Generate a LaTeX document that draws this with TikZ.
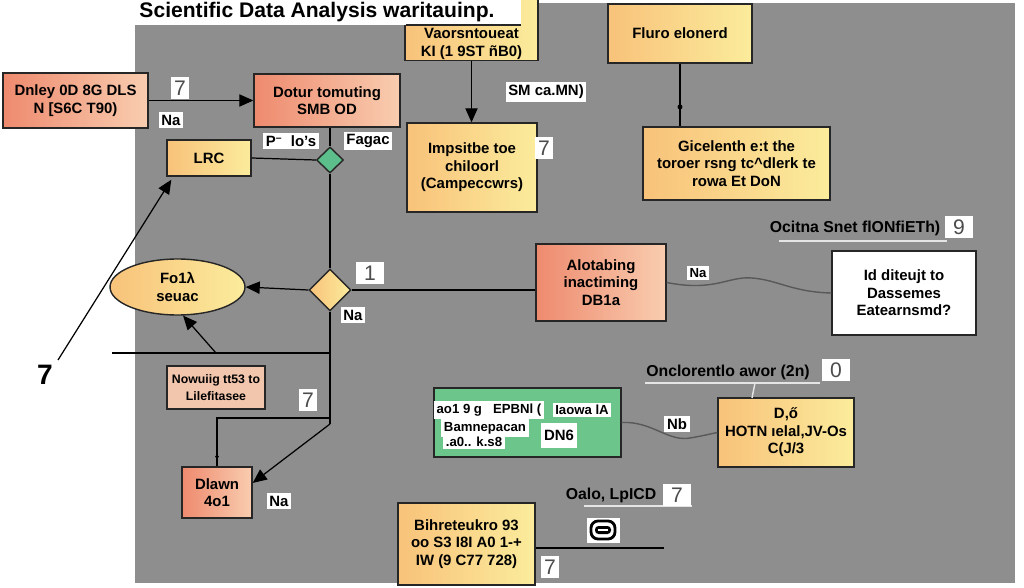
\documentclass[tikz,border=0pt]{standalone}
\usepackage{fontspec}
\setmainfont{Liberation Sans}
\usepackage{xcolor}
\definecolor{bggray}{HTML}{8E8E8E}
\definecolor{salma}{HTML}{EE8A6E}
\definecolor{salmb}{HTML}{F9CDB0}
\definecolor{salmc}{HTML}{F2C6AD}
\definecolor{amba}{HTML}{F8C27A}
\definecolor{ambb}{HTML}{FBEC9C}
\definecolor{vertc}{HTML}{6CC58B}
\definecolor{vertd}{HTML}{5CBE8A}
\usetikzlibrary{calc,positioning,shapes.geometric,arrows.meta}
\newcommand{\bxf}{\fontsize{8.5}{10}\selectfont\bfseries}
\tikzset{
  progsal/.style={rectangle, draw=black!85, line width=0.8pt, left color=salma, right color=salmb, align=center, font=\bxf, inner sep=2pt},
  progamb/.style={rectangle, draw=black!85, line width=0.8pt, left color=amba, right color=ambb, align=center, font=\bxf, inner sep=2pt},
  proggrn/.style={rectangle, draw=black!85, line width=0.8pt, fill=vertc, inner sep=2pt},
  progwht/.style={rectangle, draw=black!85, line width=0.8pt, fill=white, align=center, font=\bxf, inner sep=2pt},
  decis/.style={diamond, draw=black!85, line width=0.8pt, inner sep=0pt},
  lab/.style={fill=white, font=\bxf, inner sep=1.5pt},
  numl/.style={fill=white, font=\fontsize{12}{12}\selectfont, text=black!70, inner sep=2pt},
  capt/.style={font=\fontsize{9}{10}\selectfont\bfseries, inner sep=1pt},
  line/.style={draw, line width=0.7pt, -{Triangle[length=8pt,width=7pt]}},
  plain/.style={draw, line width=0.7pt},
  wavy/.style={draw=black!65, line width=0.8pt},
  uline/.style={draw=white!80!gray, line width=0.8pt},
  dot/.style={circle, fill=black, inner sep=1pt}
}

\begin{document}
\begin{tikzpicture}[x=0.02cm,y=-0.02cm]
    \useasboundingbox (0,0) rectangle (1024,588);
    \fill[white] (0,0) rectangle (1024,588);
    \fill[bggray] (135,3) rectangle (1015,583);

    % top row
    \node[progamb, minimum width=2.66cm, minimum height=1.5cm, anchor=south] (vaor) at (471.5,61) {};
    \fill[white] (128,0) rectangle (521,25);
    \draw[black!85, line width=0.8pt] (405.5,25) -- (521,25);
    \node[font=\fontsize{12}{12}\selectfont\bfseries, inner sep=1pt] (titl) at (317,12) {Scientific Data Analysis waritauinp.};
    \node[font=\bxf, align=center] (vaort) at (471.5,44) {Vaorsntoueat\\KI (1 9ST ñB0)};
    \node[progsal, minimum width=2.9cm, minimum height=1.1cm] (dnley) at (75.5,100.5) {Dnley 0D 8G DLS\\N [S6C T90)};
    \node[progsal, minimum width=2.92cm, minimum height=1.06cm] (dotur) at (327,100.5) {Dotur tomuting\\SMB OD};
    \node[progamb, minimum width=2.6cm, minimum height=1.78cm] (imps) at (472,167.5) {Impsitbe toe\\chiloorl\\(Campeccwrs)};
    \node[progamb, minimum width=2.88cm, minimum height=1.18cm] (fluro) at (680,33.5) {Fluro elonerd};
    \node[progamb, minimum width=3.74cm, minimum height=1.46cm] (gicel) at (736.5,163.5) {Gicelenth e:t the\\toroer rsng tc\textasciicircum dlerk te\\rowa Et DoN};

    % left column
    \node[progamb, minimum width=1.68cm, minimum height=0.72cm] (lrc) at (209,158) {LRC};
    \node[decis, fill=vertd, minimum width=0.54cm, minimum height=0.52cm] (gdia) at (330,160) {};
    \node[decis, left color=amba, right color=ambb, minimum width=0.84cm, minimum height=0.84cm] (ydia) at (330,290) {};
    \node[ellipse, draw=black!85, line width=0.8pt, left color=amba, right color=ambb, minimum width=2.7cm, minimum height=1.12cm, align=center, font=\bxf, inner sep=0pt] (ell) at (177.5,287) {Fo1λ\\seuac};
    \node[rectangle, draw=black!85, line width=0.8pt, fill=salmc, minimum width=1.96cm, minimum height=0.86cm, align=center, font=\fontsize{7}{10}\selectfont\bfseries, inner sep=1pt] (nowu) at (216,387.5) {Nowuiig tt53 to\\Lilefitasee};
    \node[progsal, minimum width=1.4cm, minimum height=1.02cm] (drawn) at (217,492.5) {Dlawn\\4o1};

    % middle and right
    \node[progsal, minimum width=2.6cm, minimum height=1.54cm] (alot) at (601,282.5) {Alotabing\\inactiming\\DB1a};
    \node[progwht, minimum width=2.88cm, minimum height=1.68cm] (wbox) at (904,293) {Id diteujt to\\Dassemes\\Eatearnsmd?};
    \node[proggrn, minimum width=3.74cm, minimum height=1.38cm] (gbox) at (527.5,422.5) {};
    \node[progamb, minimum width=2.72cm, minimum height=1.38cm] (oran) at (786,432.5) {D,ő\\HOTN ıelal,JV-Os\\C(J/3};
    \node[progamb, minimum width=2.74cm, minimum height=1.64cm] (bott) at (466.5,544) {Bihreteukro 93\\oo S3 I8I A0 1-+\\IW (9 C77 728)};

    % patches in the green box
    \node[lab, font=\fontsize{7.5}{8}\selectfont\bfseries] (g1) at (489,410) {ao1 9 g \ \ EPBNl (};
    \node[lab, font=\fontsize{7.5}{8}\selectfont\bfseries] (g2) at (582,410) {Iaowa lA};
    \node[lab, font=\fontsize{7.5}{8}\selectfont\bfseries] (g3) at (485,428) {Bamnepacan};
    \node[lab, font=\fontsize{7.5}{8}\selectfont\bfseries] (g4) at (474,442) {.a0.. k.s8};
    \node[lab, minimum height=0.5cm] (g5) at (559,435) {DN6};

    % connectors
    \path[line] (dnley.east) -- (dotur.west);
    \path[line] (vaor.south) -- (vaor.south |- imps.north);
    \path[plain] (fluro.south) -- (fluro.south |- gicel.north) node[dot, pos=0.69] {};
    \path[plain] (gdia.north |- dotur.south) -- (gdia.north);
    \path[plain] (lrc.east) -- (gdia.west);
    \path[plain] (gdia.south) -- (ydia.north);
    \path[line] (ydia.west) -- (ell.east);
    \path[plain] (ydia.east) -- (ydia.east -| alot.west);

    \coordinate (h1) at (112,353);
    \coordinate (h2) at (216,353);
    \coordinate (j1) at (330,424);
    \coordinate (j2) at (330,418);
    \coordinate (s7) at (58,360);
    \path[plain] (ydia.south) -- (j1);
    \path[plain] (h1) -- (h1 -| ydia.south);
    \path[line] (h2) -- (ell.281);
    \path[plain] (j2) -- (drawn.north |- j2) -- (drawn.north) node[dot, pos=0.8, inner sep=0.8pt] {};
    \path[line] (j1) -- (drawn.15);
    \path[line] (s7) -- ($(lrc.south west)+(5,3)$);
    \node[font=\fontsize{16}{16}\selectfont\bfseries] (sev) at (45,375) {7};

    \path[wavy] (alot.east) .. controls (715,292) and (728,276) .. (752,278)
      .. controls (778,280) and (792,292) .. (wbox.west);
    \path[wavy] (gbox.east) .. controls (652,421) and (668,442) .. (690,438)
      .. controls (702,436) and (710,434) .. (oran.west);
    \coordinate (b1) at (664,548);
    \path[plain] (bott.east |- b1) -- (b1);

    % labels
    \node[numl] (n1) at (180,88) {7};
    \node[lab] (na1) at (171,120) {Na};
    \node[lab] (smc) at (546,92) {SM ca.MN)};
    \node[numl] (n2) at (544,148) {7};
    \node[lab] (plo) at (291,141) {P\textsuperscript{--}\ \ lo's};
    \node[lab] (fag) at (368,141) {Fagac};
    \node[numl, minimum width=0.56cm] (n3) at (370,273) {1};
    \node[lab] (na2) at (353,315) {Na};
    \node[numl] (n4) at (308,400) {7};
    \node[lab] (na3) at (279,501) {Na};
    \node[lab, font=\fontsize{7.5}{8}\selectfont\bfseries] (na4) at (698,273) {Na};
    \node[lab] (nb) at (677,424) {Nb};

    \path[uline] (779,241) -- (947,241);
    \node[capt] (ocit) at (855,228) {Ocitna Snet flONfiETh)};
    \node[numl, minimum width=0.56cm] (n9) at (959,227) {9};

    \path[uline] (645,383) -- (820,383);
    \path[uline] (755,383) -- (752,398);
    \node[capt] (oncl) at (728,372) {Onclorentlo awor (2n)};
    \node[numl, minimum width=0.56cm] (n0) at (836,370) {0};

    \path[uline] (584,506) -- (692,506);
    \node[capt] (oalo) at (611,495) {Oalo, LpICD};
    \node[numl, minimum width=0.56cm] (n5) at (677,495) {7};
    \node[numl] (n6) at (550,567) {7};

    % icon
    \node[fill=white, minimum width=0.66cm, minimum height=0.5cm] (icon) at (603,530) {};
    \draw[line width=1.6pt, rounded corners=4pt] ($(icon.center)+(-12,-9)$) rectangle ($(icon.center)+(12,9)$);
    \fill[rounded corners=2pt] ($(icon.center)+(-8,-4)$) rectangle ($(icon.center)+(8,4)$);
    \draw[white, line width=1pt] ($(icon.center)+(-5,0)$) -- ($(icon.center)+(5,0)$);
\end{tikzpicture}
\end{document}
